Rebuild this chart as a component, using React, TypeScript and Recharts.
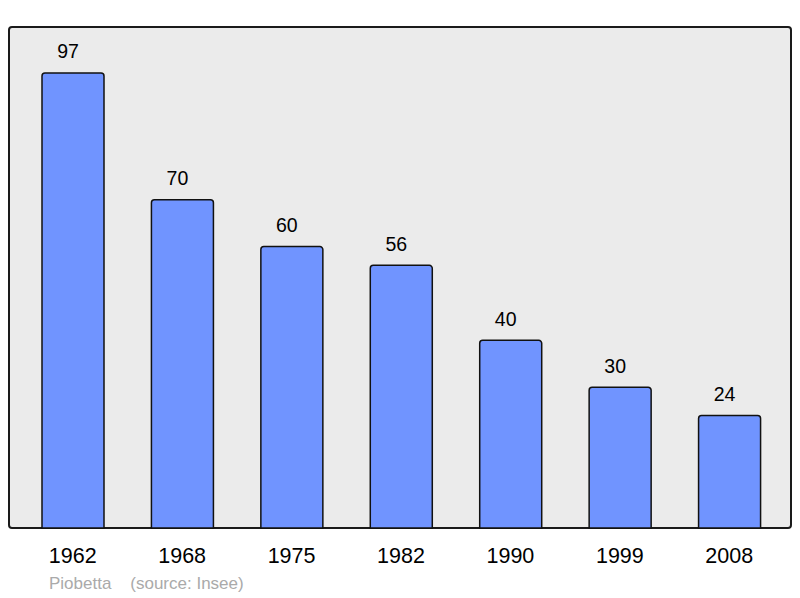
import React from "react";
import { BarChart, Bar, XAxis, YAxis, LabelList } from "recharts";

const years = ["1962", "1968", "1975", "1982", "1990", "1999", "2008"];
const population = [97, 70, 60, 56, 40, 30, 24];
const sourceLabel = "Piobetta    (source: Insee)";

const data = years.map((y, i) => ({ year: y, value: population[i] }));

const FONT = "'Liberation Sans', Arial, sans-serif";

const ValueLabel = (props: any) => {
  const { x, y, width, value } = props;
  return (
    <text
      x={Number(x) + Number(width) / 2 - 5}
      y={Number(y) - 14.5}
      textAnchor="middle"
      fontSize={19.5}
      fontFamily={FONT}
      fill="#000"
    >
      {value}
    </text>
  );
};

export default function App() {
  return (
    <div style={{ position: "absolute", left: 0, top: 0, width: 800, height: 598, background: "#fff", fontFamily: FONT }}>
      <div
        style={{
          position: "absolute",
          left: 8,
          top: 26,
          width: 780,
          height: 499,
          background: "#ebebeb",
          border: "2px solid #1a1a1a",
          borderRadius: 4,
        }}
      />
      <div style={{ position: "absolute", left: 0, top: 0 }}>
        <BarChart
          width={800}
          height={598}
          data={data}
          margin={{ top: 27, right: 9, bottom: 40, left: 9 }}
        >
          <XAxis
            dataKey="year"
            height={30}
            axisLine={false}
            tickLine={false}
            tickSize={0}
            tickMargin={20}
            padding={{ left: 9, right: 7 }}
            tick={{ fill: "#000", fontSize: 21.5, fontFamily: FONT }}
            interval={0}
          />
          <YAxis hide domain={[0, 106.8]} />
          <Bar
            dataKey="value"
            barSize={62}
            fill="#7094ff"
            stroke="#111"
            strokeWidth={1.5}
            radius={[3, 3, 0, 0]}
            isAnimationActive={false}
          >
            <LabelList dataKey="value" content={ValueLabel} />
          </Bar>
        </BarChart>
      </div>
      <div
        style={{
          position: "absolute",
          left: 49,
          top: 574,
          fontSize: 17,
          color: "#aaaaaa",
          whiteSpace: "pre",
          fontFamily: FONT,
          lineHeight: "20px",
        }}
      >
        {sourceLabel}
      </div>
    </div>
  );
}
